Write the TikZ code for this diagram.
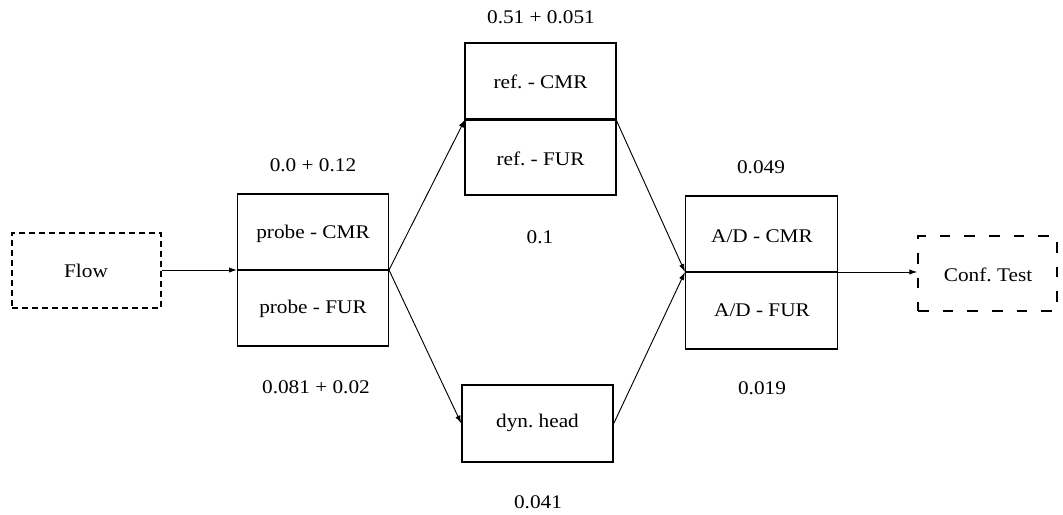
\documentclass[tikz,border=0pt]{standalone}
\usepackage{fontspec}
\setmainfont[FakeStretch=1.1]{Liberation Serif}
\usetikzlibrary{arrows.meta}
\begin{document}
\frenchspacing
\begin{tikzpicture}[x=0.75pt,y=-0.75pt,
  box/.style={draw, line width=1.1pt, rectangle, inner sep=0pt},
  dbox/.style={draw, line width=0.9pt, rectangle, inner sep=0pt, dash pattern=on 4.5pt off 3pt},
  cbox/.style={draw, line width=1pt, rectangle, inner sep=0pt, dash pattern=on 8pt off 10.5pt},
  txt/.style={font=\fontsize{14.5}{16}\selectfont, inner sep=0pt},
  divider/.style={line width=2.2pt},
  conn/.style={line width=0.7pt, -{Latex[length=6pt,width=4pt]}}
]
\useasboundingbox (0,0) rectangle (1063,514);
% boxes
\node[dbox, minimum width=111.75pt, minimum height=56.25pt] (flow) at (86.5,270.5) {};
\node[box, minimum width=113.25pt, minimum height=114pt] (probe) at (313,270) {};
\node[box, minimum width=113.25pt, minimum height=114pt] (ref) at (540.5,119) {};
\node[box, minimum width=113.25pt, minimum height=57.75pt] (dyn) at (537.5,423.5) {};
\node[box, minimum width=114pt, minimum height=114.75pt] (ad) at (761.5,272.5) {};
\node[cbox, minimum width=104.25pt, minimum height=56.25pt] (conf) at (987.5,273.5) {};
% dividers
\coordinate (pL) at (237,270); \coordinate (pR) at (389,270);
\coordinate (rL) at (465,119.5); \coordinate (rR) at (616,119.5);
\coordinate (aL) at (685,272); \coordinate (aR) at (838,272);
\draw[divider] (pL) -- (pR);
\draw[divider] (rL) -- (rR);
\draw[divider] (aL) -- (aR);
% box texts
\node[txt] (tflow) at (86,271) {Flow};
\node[txt] (tpc) at (313,234) {probe - CMR};
\node[txt] (tpf) at (313,309) {probe - FUR};
\node[txt] (trc) at (540.5,82) {ref. - CMR};
\node[txt] (trf) at (540.5,159) {ref. - FUR};
\node[txt] (tdyn) at (537.5,423) {dyn. head};
\node[txt] (tac) at (762,236) {A/D - CMR};
\node[txt] (taf) at (762,310) {A/D - FUR};
\node[txt] (tconf) at (988,275) {Conf. Test};
% value labels
\node[txt] (v1) at (541,17) {0.51 + 0.051};
\node[txt] (v2) at (313,165) {0.0 + 0.12};
\node[txt] (v3) at (540,237) {0.1};
\node[txt] (v4) at (316,387) {0.081 + 0.02};
\node[txt] (v5) at (761,167) {0.049};
\node[txt] (v6) at (762,388) {0.019};
\node[txt] (v7) at (538,502) {0.041};
% connectors
\draw[conn] (flow.east |- pL) -- (pL);
\draw[conn] (pR) -- (rL);
\draw[conn] (pR) -- (dyn.west);
\draw[conn] (rR) -- (aL);
\draw[conn] (dyn.east) -- (aL);
\draw[conn] (aR) -- (conf.west |- aR);
\end{tikzpicture}
\end{document}
